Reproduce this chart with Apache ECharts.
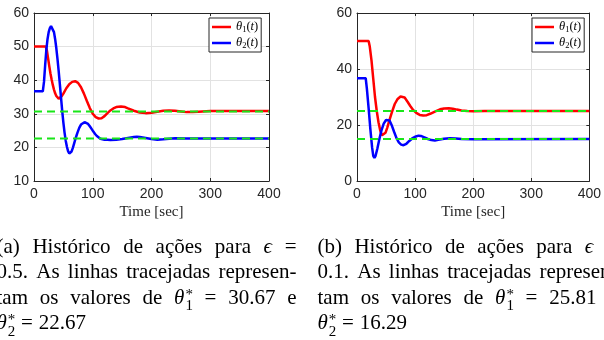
<!DOCTYPE html>
<html><head><meta charset="utf-8">
<script src="https://cdn.jsdelivr.net/npm/echarts@6/dist/echarts.min.js"></script>
<style>html,body{margin:0;padding:0;background:#fff;overflow:hidden}#c{width:604px;height:340px}</style>
</head><body><div id="c"></div>
<script>
// ---------- data ----------
const xTicks = [0, 100, 200, 300, 400];
const yTicksA = [10, 20, 30, 40, 50, 60];
const yTicksB = [0, 20, 40, 60];

// (a) epsilon = 0.5
const tA1 = [0,20,22,24,26,28,30,32,34,36,38,40,42,44,47,50,55,60,65,70,75,80,85,90,95,100,105,110,115,120,125,130,135,140,148,155,160,170,180,190,200,210,220,230,240,250,260,270,280,300,330,400];
const vA1 = [50,50,48.8,46.5,44.2,42.0,40.2,38.6,37.2,36.1,35.3,34.8,34.5,34.6,35.2,36.0,37.6,38.8,39.5,39.7,39.2,37.9,36.0,33.8,31.7,30.0,29.0,28.6,28.7,29.3,30.2,31.0,31.6,32.0,32.2,32.0,31.6,30.9,30.4,30.2,30.3,30.6,30.9,31.0,30.9,30.7,30.5,30.5,30.6,30.8,30.8,30.8];
const tA2 = [0,15,17,19,21,23,25,27,29,30,32,34,36,38,40,42,44,46,48,50,52,54,56,58,60,61,62,64,66,68,71,74,77,80,83,86,89,92,95,98,101,104,107,110,113,116,120,125,130,140,150,160,170,175,180,190,200,210,220,230,240,260,400];
const vA2 = [36.7,36.7,39.5,44.5,49.0,52.2,54.3,55.5,56.1,56.2,55.7,54.3,52.2,49.5,46.3,42.7,38.8,34.8,30.9,27.4,24.4,22.0,20.2,18.9,18.2,18.1,18.2,18.8,19.8,21.0,22.8,24.4,25.8,26.8,27.3,27.5,27.4,27.0,26.3,25.5,24.7,24.0,23.4,22.9,22.6,22.4,22.3,22.25,22.2,22.3,22.5,22.8,23.1,23.2,23.1,22.8,22.5,22.3,22.4,22.6,22.7,22.67,22.67];
const refA = [30.67, 22.67];

// (b) epsilon = 0.1
const tB1 = [0,20,22,25,28,31,34,37,40,43,46,49,52,56,60,65,70,75,78,82,87,92,97,102,108,114,120,127,135,143,150,158,165,172,180,190,200,220,400];
const vB1 = [50,50,48,43,36.5,30,25,21,18,16.3,16.2,17.2,19,21.8,24.5,27.5,29.3,30.2,30.3,29.8,28.3,26.7,25.3,24.3,23.6,23.4,23.5,24.1,24.9,25.6,25.9,26.0,25.8,25.5,25.2,25.0,24.9,25.0,25.0];
const tB2 = [0,15,17,20,23,26,28,30,32,35,38,42,46,50,53,56,60,64,68,72,76,80,85,90,95,100,106,110,116,122,128,134,140,150,160,170,180,200,400];
const vB2 = [36.7,36.7,33,26,18.5,12,9,8.2,9,11.5,14.5,18,20.5,21.8,22.1,21.6,19.8,17.5,15.3,13.8,13,12.8,13.3,14.3,15.2,15.8,16.2,16.1,15.6,15.0,14.6,14.5,14.7,15.1,15.3,15.2,15.0,14.9,15.0];
const refB = [25, 15];

// captions ($e = epsilon, $t1 / $t2 = theta*_1 / theta*_2)
const capA = [
  ['(a)','Histórico','de','ações','para','$e','='],
  ['0.5.','As','linhas','tracejadas','represen-'],
  ['tam','os','valores','de','$t1','=','30.67','e'],
  ['$t2','=','22.67']
];
const capB = [
  ['(b)','Histórico','de','ações','para','$e','='],
  ['0.1.','As','linhas','tracejadas','represen-'],
  ['tam','os','valores','de','$t1','=','25.81','e'],
  ['$t2','=','16.29']
];

// ---------- chart ----------
const AX = '#262626';
const grids = [
  {left: 34, top: 13, width: 235, height: 168},
  {left: 357, top: 13, width: 235, height: 168}
];
const yTicks = [yTicksA, yTicksB];

function mkX(gi, top) {
  return {
    type: 'value', gridIndex: gi, position: top ? 'top' : 'bottom',
    min: xTicks[0], max: xTicks[xTicks.length - 1], interval: xTicks[1] - xTicks[0],
    axisLine: {show: true, onZero: false, lineStyle: {color: AX, width: 1}},
    axisTick: {show: true, inside: true, length: 3, lineStyle: {color: AX}},
    axisLabel: {show: !top, color: AX, fontFamily: 'Liberation Sans', fontSize: 14, margin: 6},
    splitLine: {show: !top, lineStyle: {color: '#e2e2e2', width: 1}},
    name: top ? '' : 'Time [sec]', nameLocation: 'middle', nameGap: 24,
    nameTextStyle: {fontFamily: 'Liberation Serif', fontSize: 15, color: AX}
  };
}
function mkY(gi, right) {
  const tk = yTicks[gi];
  return {
    type: 'value', gridIndex: gi, position: right ? 'right' : 'left',
    min: tk[0], max: tk[tk.length - 1], interval: tk[1] - tk[0],
    axisLine: {show: true, onZero: false, lineStyle: {color: AX, width: 1}},
    axisTick: {show: true, inside: true, length: 3, lineStyle: {color: AX}},
    axisLabel: {show: !right, color: AX, fontFamily: 'Liberation Sans', fontSize: 14, margin: 5},
    splitLine: {show: !right, lineStyle: {color: '#e2e2e2', width: 1}}
  };
}
function line(name, gi, t, v, color) {
  return {
    type: 'line', name, xAxisIndex: 2 * gi, yAxisIndex: 2 * gi,
    data: t.map((x, i) => [x, v[i]]), symbol: 'none', showSymbol: false,
    lineStyle: {color, width: 2.5}, itemStyle: {color}, z: 2, animation: false
  };
}
function ref(gi, val) {
  return {
    type: 'line', name: 'ref', xAxisIndex: 2 * gi, yAxisIndex: 2 * gi,
    data: [[xTicks[0], val], [xTicks[xTicks.length - 1], val]], symbol: 'none',
    lineStyle: {color: '#19e619', width: 2, type: [8, 5]}, z: 3, silent: true, animation: false
  };
}

const legendRich = {
  i: {fontFamily: 'Liberation Serif', fontStyle: 'italic', fontSize: 12.5, color: '#000'},
  n: {fontFamily: 'Liberation Serif', fontSize: 12.5, color: '#000'},
  s: {fontFamily: 'Liberation Serif', fontSize: 8.5, color: '#000', padding: [5, 0, 0, 0]}
};
function mkLegend(left) {
  return {
    left, top: 18, orient: 'vertical', data: ['th1', 'th2'],
    icon: 'rect', itemWidth: 19, itemHeight: 2.5, itemGap: 2,
    padding: [2, 3, 2, 3], backgroundColor: '#fff', borderColor: AX, borderWidth: 1, borderRadius: 0,
    selectedMode: false,
    formatter: n => n === 'th1' ? '{i|θ}{s|1}{n|(}{i|t}{n|)}' : '{i|θ}{s|2}{n|(}{i|t}{n|)}',
    textStyle: {fontFamily: 'Liberation Serif', fontSize: 12.5, color: '#000', lineHeight: 14, rich: legendRich}
  };
}

// ---------- captions (justified, measured) ----------
const FS = 21, FF = 'Liberation Serif', SS = 15;
const mctx = document.createElement('canvas').getContext('2d');
function mw(text, size, italic) {
  mctx.font = (italic ? 'italic ' : '') + size + 'px "' + FF + '"';
  return mctx.measureText(text).width;
}
function tokenParts(tok) {
  if (tok === '$e') return {w: mw('ϵ', FS, true), parts: [{t: 'ϵ', s: FS, it: true, dx: 0, dy: 0}]};
  if (tok === '$t1' || tok === '$t2') {
    const d = tok === '$t1' ? '1' : '2';
    const wt = mw('θ', FS, true);
    const ws = Math.max(mw('*', SS, false), mw(d, SS, false));
    return {w: wt + 1 + ws, parts: [
      {t: 'θ', s: FS, it: true, dx: 0, dy: 0},
      {t: '*', s: SS, it: false, dx: wt + 1, dy: -3.2},
      {t: d, s: SS, it: false, dx: wt + 1, dy: 8.3}
    ]};
  }
  return {w: mw(tok, FS, false), parts: [{t: tok, s: FS, it: false, dx: 0, dy: 0}]};
}
const lineMid = [247.1, 272.6, 298.1, 323.6];
const colLeft = [-3.5, 317.5], colW = 300;
const graphics = [];
[capA, capB].forEach((cap, ci) => {
  cap.forEach((words, li) => {
    const toks = words.map(tokenParts);
    const total = toks.reduce((a, b) => a + b.w, 0);
    const justify = li < cap.length - 1;
    const gap = justify ? (colW - total) / (toks.length - 1) : 5.8;
    let x = colLeft[ci];
    toks.forEach(tk => {
      tk.parts.forEach(p => {
        graphics.push({
          type: 'text', x: x + p.dx, y: lineMid[li] + p.dy, silent: true,
          style: {text: p.t, fontSize: p.s, fontFamily: FF, fontStyle: p.it ? 'italic' : 'normal',
                  fill: '#000', align: 'left', verticalAlign: 'middle', textAlign: 'left', textVerticalAlign: 'middle'}
        });
      });
      x += tk.w + gap;
    });
  });
});

const option = {
  animation: false,
  backgroundColor: '#fff',
  grid: grids.map(g => Object.assign({containLabel: false, show: false}, g)),
  xAxis: [mkX(0, false), mkX(0, true), mkX(1, false), mkX(1, true)],
  yAxis: [mkY(0, false), mkY(0, true), mkY(1, false), mkY(1, true)],
  legend: [mkLegend(209), mkLegend(532)],
  series: [
    line('th1', 0, tA1, vA1, '#ff0000'),
    line('th2', 0, tA2, vA2, '#0000ff'),
    ref(0, refA[0]), ref(0, refA[1]),
    line('th1', 1, tB1, vB1, '#ff0000'),
    line('th2', 1, tB2, vB2, '#0000ff'),
    ref(1, refB[0]), ref(1, refB[1])
  ],
  graphic: graphics
};
const chart = echarts.init(document.getElementById('c'));
chart.setOption(option);
</script></body></html>
